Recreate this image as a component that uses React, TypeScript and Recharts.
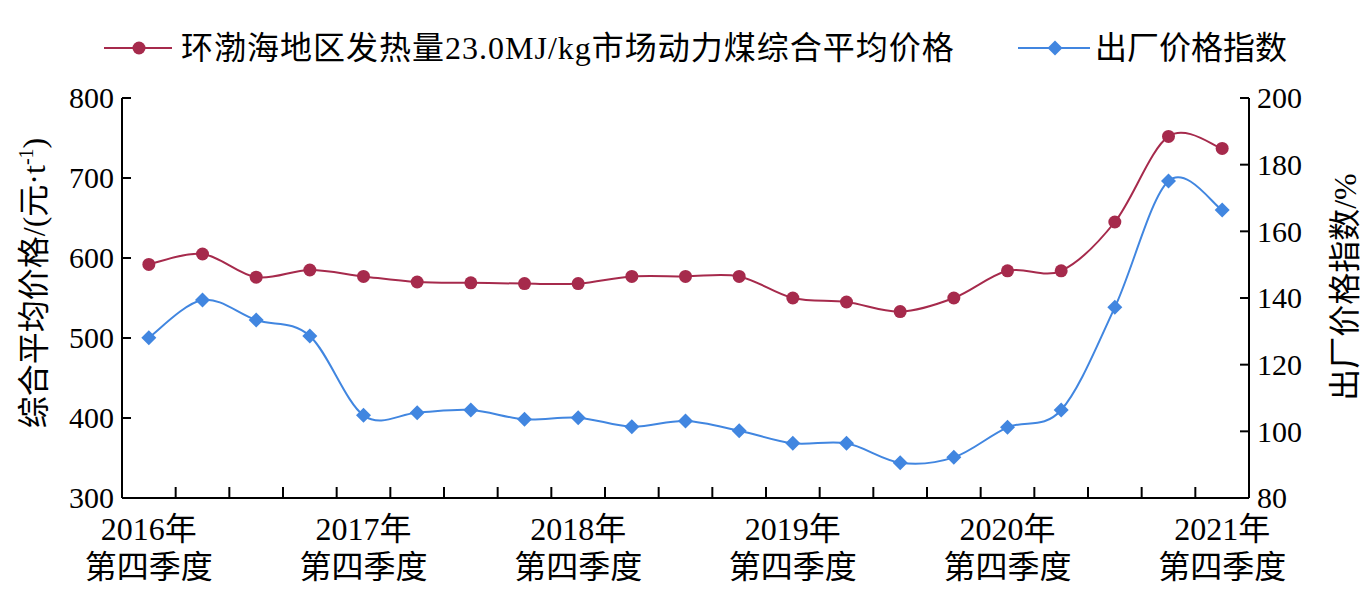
import React from "react";
import { LineChart, Line, XAxis, YAxis } from "recharts";

// ---- data ----
const categories = [
  "2016年第四季度",
  "2017年第一季度", "2017年第二季度", "2017年第三季度", "2017年第四季度",
  "2018年第一季度", "2018年第二季度", "2018年第三季度", "2018年第四季度",
  "2019年第一季度", "2019年第二季度", "2019年第三季度", "2019年第四季度",
  "2020年第一季度", "2020年第二季度", "2020年第三季度", "2020年第四季度",
  "2021年第一季度", "2021年第二季度", "2021年第三季度", "2021年第四季度",
];
const coalPrice = [592, 605, 576, 585, 577, 570, 569, 568, 568, 577, 577, 577, 550, 545, 533, 550, 584, 584, 645, 752, 737];
const priceIndex = [128.1, 139.4, 133.4, 128.6, 104.8, 105.6, 106.4, 103.6, 104.1, 101.4, 103.1, 100.2, 96.4, 96.4, 90.6, 92.2, 101.2, 106.4, 137.2, 175.1, 166.4];
const leftTicks = [300, 400, 500, 600, 700, 800];
const rightTicks = [80, 100, 120, 140, 160, 180, 200];
const seriesNames = ["环渤海地区发热量23.0MJ/kg市场动力煤综合平均价格", "出厂价格指数"];
const leftTitle = "综合平均价格/(元·t";
const rightTitle = "出厂价格指数/%";

const data = categories.map((c, i) => ({ idx: i, cat: c, coal: coalPrice[i], index: priceIndex[i] }));
const labelTicks = categories.map((_, i) => i).filter((i) => i % 4 === 0);
const boundaryTicks = categories.slice(1).map((_, i) => i + 0.5);
const xTicks = [...labelTicks, ...boundaryTicks].sort((a, b) => a - b);

const RED = "#A62A4C";
const BLUE = "#4186E0";
const FONT = "'Liberation Serif', 'Times New Roman', 'Noto Sans CJK SC', serif";

// Catmull-Rom style smoothing (like office "smoothed line")
const smoothCurve: any = (context: any) => {
  let pts: number[][] = [];
  return {
    areaStart() {},
    areaEnd() {},
    lineStart() { pts = []; },
    point(x: number, y: number) { pts.push([x, y]); },
    lineEnd() {
      if (!pts.length) return;
      context.moveTo(pts[0][0], pts[0][1]);
      for (let i = 0; i < pts.length - 1; i++) {
        const p0 = pts[i - 1] || pts[i];
        const p1 = pts[i];
        const p2 = pts[i + 1];
        const p3 = pts[i + 2] || pts[i + 1];
        const c1x = p1[0] + (p2[0] - p0[0]) / 6;
        const c1y = p1[1] + (p2[1] - p0[1]) / 6;
        const c2x = p2[0] - (p3[0] - p1[0]) / 6;
        const c2y = p2[1] - (p3[1] - p1[1]) / 6;
        context.bezierCurveTo(c1x, c1y, c2x, c2y, p2[0], p2[1]);
      }
    },
  };
};

const XTick = (props: any) => {
  const { x, y, payload } = props;
  const v = payload.value;
  if (!Number.isInteger(v)) {
    return <line x1={x} x2={x} y1={y} y2={y - 11} stroke="#000" strokeWidth={2} />;
  }
  const label = categories[v];
  const year = label.slice(0, 5);
  const q = label.slice(5);
  return (
    <text x={x} y={y} textAnchor="middle" fontSize={32} fill="#000" fontFamily={FONT}>
      <tspan x={x} dy={42}>{year}</tspan>
      <tspan x={x} dy={38}>{q}</tspan>
    </text>
  );
};

const LeftTick = (props: any) => {
  const { x, y, payload } = props;
  return (
    <g>
      <line x1={x} x2={x + 9} y1={y} y2={y} stroke="#000" strokeWidth={2} />
      <text x={x - 8} y={y} dy="0.34em" textAnchor="end" fontSize={30} fill="#000" fontFamily={FONT}>
        {payload.value}
      </text>
    </g>
  );
};

const RightTick = (props: any) => {
  const { x, y, payload } = props;
  return (
    <g>
      <line x1={x - 9} x2={x} y1={y} y2={y} stroke="#000" strokeWidth={2} />
      <text x={x + 8} y={y} dy="0.34em" textAnchor="start" fontSize={30} fill="#000" fontFamily={FONT}>
        {payload.value}
      </text>
    </g>
  );
};

const LeftTitle = () => (
  <text
    x={34}
    y={283}
    transform="rotate(-90, 34, 283)"
    textAnchor="middle"
    dy="0.35em"
    fontSize={32}
    fill="#000"
    fontFamily={FONT}
  >
    {leftTitle}
    <tspan dy={-12} fontSize={20}>-1</tspan>
    <tspan dy={12}>)</tspan>
  </text>
);

const RightTitle = () => (
  <text
    x={1345}
    y={287}
    transform="rotate(-90, 1345, 287)"
    textAnchor="middle"
    dy="0.35em"
    fontSize={32}
    fill="#000"
    fontFamily={FONT}
  >
    {rightTitle}
  </text>
);

const DiamondDot = (props: any) => {
  const { cx, cy, index } = props;
  if (cx == null || cy == null) return <g key={`dm-${index}`} />;
  const s = 7.5;
  return (
    <path
      key={`dm-${index}`}
      d={`M${cx},${cy - s}L${cx + s},${cy}L${cx},${cy + s}L${cx - s},${cy}Z`}
      fill={BLUE}
    />
  );
};

const LegendOverlay = () => (
  <svg
    width={1364}
    height={90}
    style={{ position: "absolute", left: 0, top: 0, pointerEvents: "none" }}
  >
    <line x1={104} x2={172} y1={48} y2={48} stroke={RED} strokeWidth={2} />
    <circle cx={139} cy={48} r={6.5} fill={RED} />
    <text x={181} y={59} fontSize={32} fill="#000" fontFamily={FONT} letterSpacing={1}>
      {seriesNames[0]}
    </text>
    <line x1={1018} x2={1090} y1={48} y2={48} stroke={BLUE} strokeWidth={2} />
    <path d="M1055,40.5L1062.5,48L1055,55.5L1047.5,48Z" fill={BLUE} />
    <text x={1095} y={59} fontSize={32} fill="#000" fontFamily={FONT}>
      {seriesNames[1]}
    </text>
  </svg>
);

export default function App() {
  return (
    <div style={{ position: "absolute", left: 0, top: 0, width: 1364, height: 616, background: "#fff" }}>
      <LineChart width={1364} height={616} data={data} margin={{ top: 98, right: 0, bottom: 0, left: 0 }}>
        <XAxis
          dataKey="idx"
          type="number"
          domain={[-0.5, categories.length - 0.5]}
          ticks={xTicks}
          interval={0}
          tickLine={false}
          tickSize={0}
          tickMargin={0}
          tick={<XTick />}
          axisLine={{ stroke: "#000", strokeWidth: 2 }}
          height={118}
          allowDataOverflow
        />
        <YAxis
          yAxisId="left"
          orientation="left"
          domain={[300, 800]}
          ticks={leftTicks}
          interval={0}
          width={122}
          tickLine={false}
          tickSize={0}
          tickMargin={0}
          tick={<LeftTick />}
          axisLine={{ stroke: "#000", strokeWidth: 2 }}
          label={<LeftTitle />}
          allowDataOverflow
        />
        <YAxis
          yAxisId="right"
          orientation="right"
          domain={[80, 200]}
          ticks={rightTicks}
          interval={0}
          width={115}
          tickLine={false}
          tickSize={0}
          tickMargin={0}
          tick={<RightTick />}
          axisLine={{ stroke: "#000", strokeWidth: 2 }}
          label={<RightTitle />}
          allowDataOverflow
        />
        <Line
          yAxisId="right"
          dataKey="index"
          type={smoothCurve}
          stroke={BLUE}
          strokeWidth={2}
          dot={DiamondDot}
          activeDot={false}
          isAnimationActive={false}
        />
        <Line
          yAxisId="left"
          dataKey="coal"
          type={smoothCurve}
          stroke={RED}
          strokeWidth={2}
          dot={{ r: 6.5, fill: RED, stroke: RED, strokeWidth: 0 }}
          activeDot={false}
          isAnimationActive={false}
        />
      </LineChart>
      <LegendOverlay />
    </div>
  );
}
